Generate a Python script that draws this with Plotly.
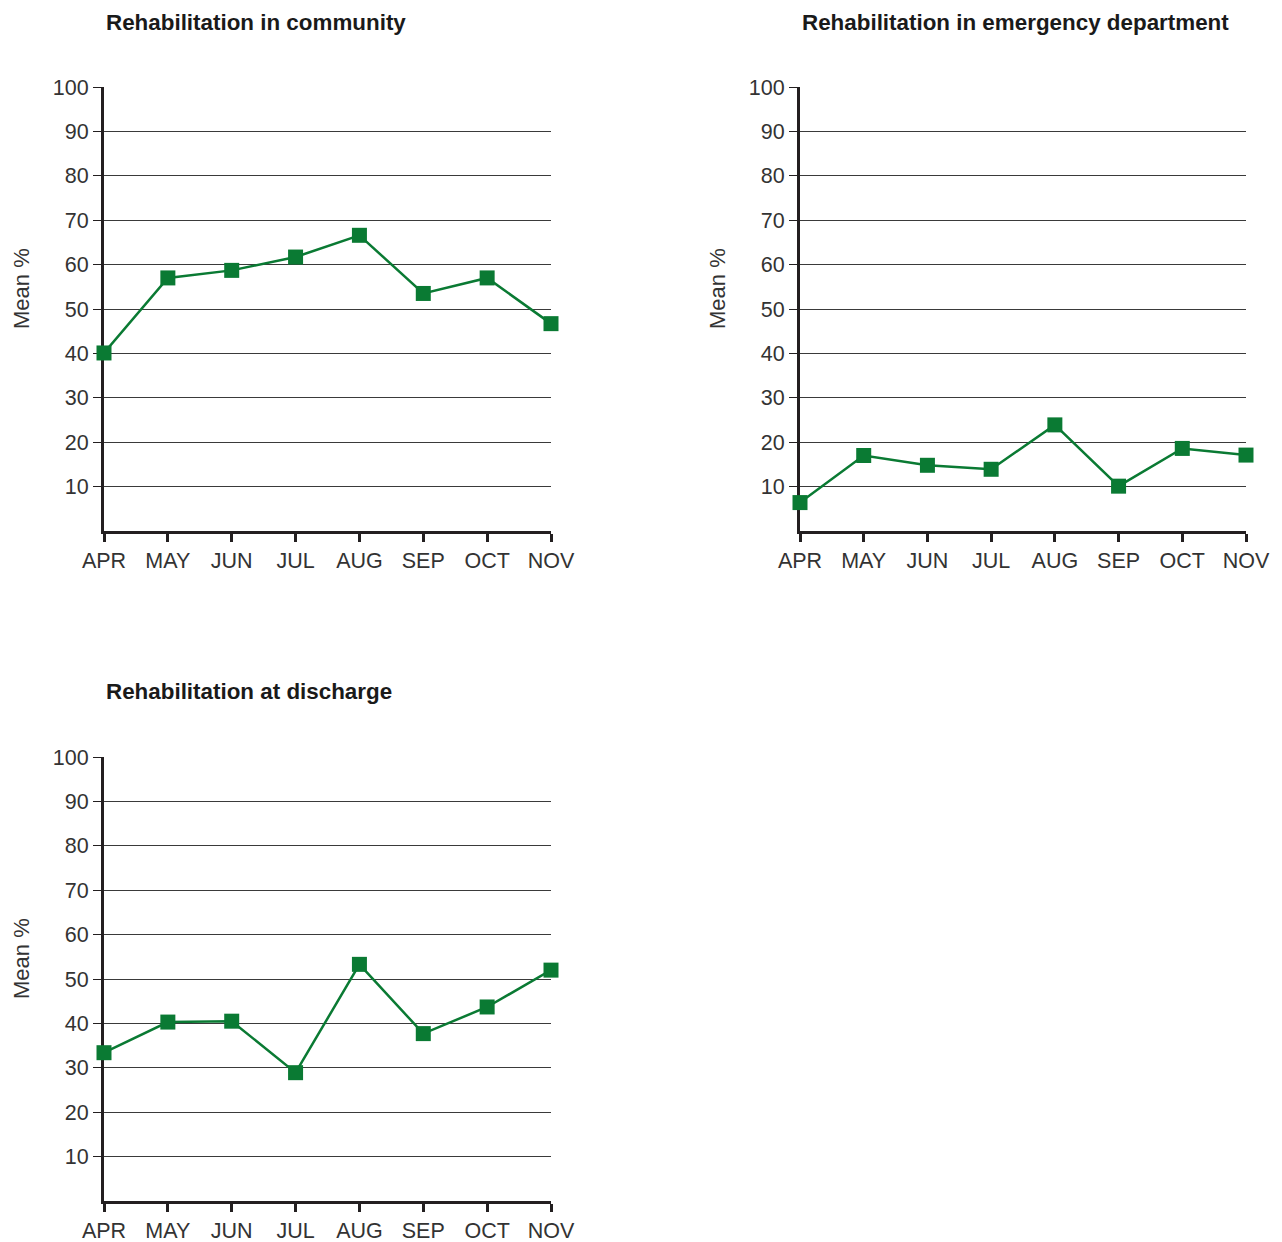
import plotly.graph_objects as go

months = ["APR", "MAY", "JUN", "JUL", "AUG", "SEP", "OCT", "NOV"]
community = [40.1, 57.0, 58.7, 61.7, 66.6, 53.5, 57.0, 46.7]
emergency = [6.4, 17.0, 14.8, 13.9, 23.9, 10.1, 18.6, 17.1]
discharge = [33.4, 40.3, 40.5, 28.9, 53.3, 37.7, 43.7, 52.0]
titles = ["Rehabilitation in community",
          "Rehabilitation in emergency department",
          "Rehabilitation at discharge"]
y_ticks = [10, 20, 30, 40, 50, 60, 70, 80, 90, 100]

OFF = 8  # page body margin
W, H = 1282 - OFF, 1242 - OFF
GREEN = "#0a7a33"
DARK = "#231f20"
FONT = "Liberation Sans, Arial, sans-serif"

# panel pixel boxes in page coordinates: (left, right, top, bottom)
boxes = [(104, 551, 87, 531), (800, 1246, 87, 531), (104, 551, 757, 1201)]
series = [community, emergency, discharge]


def px(v):
    return (v - OFF) / W


def py(v):
    return 1 - (v - OFF) / H


fig = go.Figure()
annotations = []
for i, (box, vals, title) in enumerate(zip(boxes, series, titles)):
    l, r, t, b = box
    sfx = "" if i == 0 else str(i + 1)
    xa = "x" + sfx
    ya = "y" + sfx
    fig.add_trace(go.Scatter(
        x=list(range(len(months))), y=vals, xaxis=xa, yaxis=ya,
        mode="lines+markers", cliponaxis=False,
        line=dict(color=GREEN, width=2.5),
        marker=dict(symbol="square", size=15, color=GREEN),
        showlegend=False, hoverinfo="skip"))
    fig.layout["xaxis" + sfx] = dict(
        domain=[px(l), px(r)], anchor=ya, range=[0, len(months) - 1],
        tickmode="array", tickvals=list(range(len(months))), ticktext=months,
        showgrid=False, zeroline=False, showline=True, linecolor=DARK,
        linewidth=3, ticks="outside", ticklen=8, tickwidth=3, tickcolor=DARK,
        tickfont=dict(family=FONT, size=21.5, color="#333333"),
        automargin=False, layer="below traces", fixedrange=True)
    fig.layout["yaxis" + sfx] = dict(
        domain=[py(b), py(t)], anchor=xa, range=[0, 100],
        tickmode="array", tickvals=y_ticks, ticktext=[str(v) for v in y_ticks],
        showgrid=True, gridcolor="#3a3a3a", gridwidth=1, zeroline=False,
        showline=True, linecolor=DARK, linewidth=3,
        ticks="outside", ticklen=8, tickwidth=1, tickcolor=DARK,
        tickfont=dict(family=FONT, size=21.5, color="#333333"),
        automargin=False, layer="below traces", fixedrange=True)
    annotations.append(dict(
        text="<b>" + title + "</b>", xref="paper", yref="paper",
        x=px(l), y=py(t - 65), xanchor="left", yanchor="middle",
        showarrow=False, font=dict(family=FONT, size=22.4, color="#1a1a1a")))
    annotations.append(dict(
        text="Mean %", xref="paper", yref="paper",
        x=px(l - 83), y=py(t + 202), xanchor="center", yanchor="middle",
        textangle=-90, showarrow=False,
        font=dict(family=FONT, size=22, color="#333333")))

fig.update_layout(
    width=W, height=H, margin=dict(l=0, r=0, t=0, b=0, autoexpand=False),
    paper_bgcolor="white", plot_bgcolor="white",
    annotations=annotations)

fig.write_html("out.html")
